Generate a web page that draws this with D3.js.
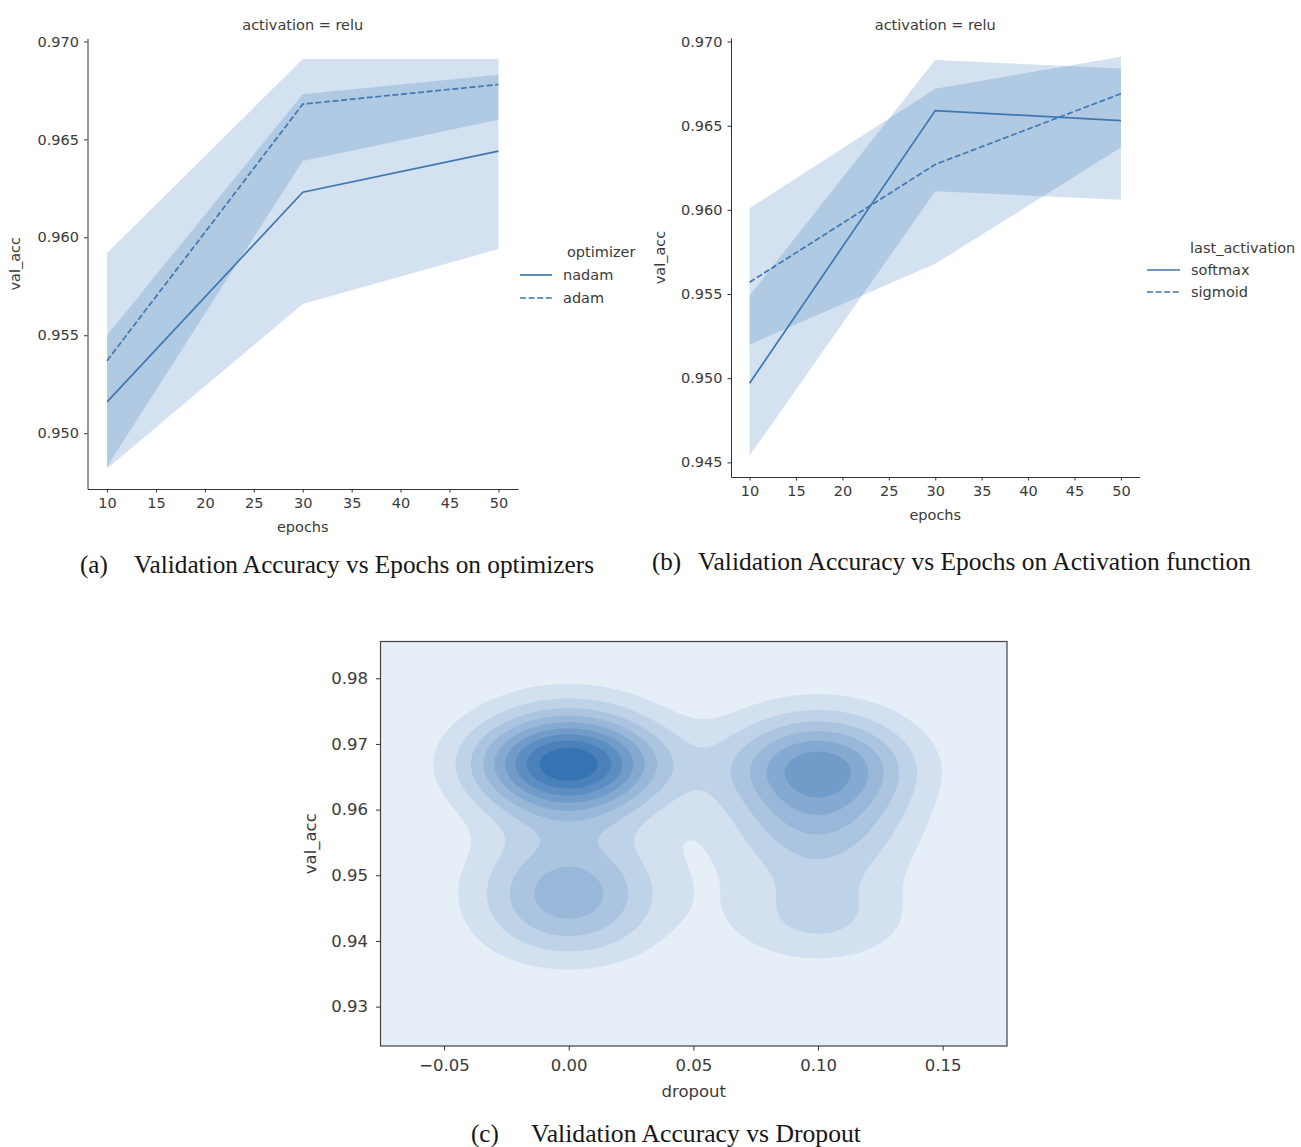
<!DOCTYPE html>
<html><head><meta charset="utf-8">
<script src="https://cdn.jsdelivr.net/npm/d3@7"></script>
<style>body{margin:0;background:#fff}</style>
</head><body><svg id="c" width="1301" height="1147"></svg>
<script>
// ---------- data ----------
const epochs = [10, 30, 50];
const epochTicks = [10, 15, 20, 25, 30, 35, 40, 45, 50];

const nadamMean = [0.9516, 0.9623, 0.9644];
const nadamLo   = [0.9482, 0.9566, 0.9594];
const nadamHi   = [0.9592, 0.9691, 0.9691];
const adamMean  = [0.9537, 0.9668, 0.9678];
const adamLo    = [0.9483, 0.9639, 0.9660];
const adamHi    = [0.9550, 0.9673, 0.9683];
const accTicksA = [0.950, 0.955, 0.960, 0.965, 0.970];

const softmaxMean = [0.9497, 0.9659, 0.9653];
const softmaxLo   = [0.9454, 0.9611, 0.9606];
const softmaxHi   = [0.9549, 0.9689, 0.9684];
const sigmoidMean = [0.9557, 0.9627, 0.9669];
const sigmoidLo   = [0.9520, 0.9568, 0.9637];
const sigmoidHi   = [0.9601, 0.9672, 0.9691];
const accTicksB = [0.945, 0.950, 0.955, 0.960, 0.965, 0.970];

// KDE samples (val_acc observed at each dropout value)
const dropoutValues = [0.0, 0.1];
const accAtDropout0 = [0.9745, 0.9690, 0.9685, 0.9680, 0.9676, 0.9672, 0.9668, 0.9664, 0.9660, 0.9655,
                       0.9615, 0.9585, 0.9520, 0.9495, 0.9478, 0.9462, 0.9430, 0.9405];
const accAtDropout10 = [0.9730, 0.9682, 0.9672, 0.9668, 0.9664, 0.9655, 0.9630, 0.9600, 0.9575, 0.9555,
                        0.9505, 0.9440, 0.9420];
const dropoutTicks = [-0.05, 0.00, 0.05, 0.10, 0.15];
const accTicksC = [0.93, 0.94, 0.95, 0.96, 0.97, 0.98];

// ---------- style ----------
const svg = d3.select('#c');
const FONT = '"DejaVu Sans", sans-serif';
const SERIF = '"Liberation Serif", "Times New Roman", serif';
const LINE = '#3f77b0', BAND = '#3f7fbf', AX = '#333', TXT = '#3a3a3a';

function styleAxis(g, fs) {
  g.attr('font-family', null).attr('font-size', null);
  g.selectAll('path.domain').attr('stroke', AX).attr('stroke-width', 1);
  g.selectAll('.tick line').attr('stroke', AX).attr('stroke-width', 1);
  g.selectAll('.tick text').attr('fill', TXT).style('font-family', FONT).style('font-size', fs + 'px');
}
function label(x, y, txt, fs, opts = {}) {
  const t = svg.append('text').attr('x', x).attr('y', y).text(txt)
    .style('font-family', opts.family || FONT).style('font-size', fs + 'px')
    .attr('fill', opts.fill || TXT).attr('text-anchor', opts.anchor || 'start');
  if (opts.rotate) t.attr('transform', `rotate(-90 ${x} ${y})`);
  if (opts.len) t.attr('textLength', opts.len).attr('lengthAdjust', 'spacingAndGlyphs');
  return t;
}

// ---------- line panels ----------
function linePanel(cfg) {
  const g = svg.append('g');
  const x = d3.scaleLinear().domain([8, 52]).range([cfg.x0, cfg.x1]);
  const y = d3.scaleLinear().domain(cfg.yDom).range([cfg.yBottom, cfg.yTop]);
  cfg.series.forEach(s => {
    const area = d3.area()
      .x((d, i) => x(epochs[i])).y0((d, i) => y(s.lo[i])).y1((d, i) => y(s.hi[i]));
    g.append('path').datum(s.mean).attr('d', area)
      .attr('fill', BAND).attr('fill-opacity', 0.23).attr('stroke', 'none');
  });
  cfg.series.forEach(s => {
    const line = d3.line().x((d, i) => x(epochs[i])).y(d => y(d));
    g.append('path').datum(s.mean).attr('d', line).attr('fill', 'none')
      .attr('stroke', LINE).attr('stroke-width', 1.7)
      .attr('stroke-dasharray', s.dash ? '6,2.6' : null);
  });
  const ax = g.append('g').attr('transform', `translate(0,${cfg.yBottom})`)
    .call(d3.axisBottom(x).tickValues(epochTicks).tickSize(3.5).tickSizeOuter(0).tickPadding(5));
  styleAxis(ax, cfg.fs);
  const ay = g.append('g').attr('transform', `translate(${cfg.x0},0)`)
    .call(d3.axisLeft(y).tickValues(cfg.yTicks).tickFormat(d3.format('.3f')).tickSize(3.5).tickSizeOuter(0).tickPadding(5));
  styleAxis(ay, cfg.fs);
  label((cfg.x0 + cfg.x1) / 2, cfg.titleY, 'activation = relu', cfg.fs, { anchor: 'middle' });
  label((cfg.x0 + cfg.x1) / 2, cfg.xlabY, 'epochs', cfg.fs, { anchor: 'middle' });
  label(cfg.ylabX, (cfg.yTop + cfg.yBottom) / 2, 'val_acc', cfg.fs, { anchor: 'middle', rotate: true });
  // legend
  const L = cfg.legend;
  label(L.titleX, L.titleY, L.title, cfg.fs);
  cfg.series.forEach((s, i) => {
    const yy = L.y0 + i * L.dy;
    g.append('line').attr('x1', L.lx0).attr('x2', L.lx1).attr('y1', yy).attr('y2', yy)
      .attr('stroke', LINE).attr('stroke-width', 1.7)
      .attr('stroke-dasharray', s.dash ? '6,2.6' : null);
    label(L.tx, yy + 5, s.name, cfg.fs);
  });
}

linePanel({
  x0: 87.5, x1: 518, yTop: 38.5, yBottom: 489, yDom: [0.94715, 0.97015], yTicks: accTicksA, fs: 14.5,
  titleY: 30, xlabY: 532, ylabX: 20,
  series: [
    { name: 'nadam', mean: nadamMean, lo: nadamLo, hi: nadamHi, dash: false },
    { name: 'adam', mean: adamMean, lo: adamLo, hi: adamHi, dash: true }
  ],
  legend: { title: 'optimizer', titleX: 567, titleY: 257, lx0: 520, lx1: 552, tx: 563, y0: 275, dy: 23 }
});
linePanel({
  x0: 731, x1: 1139.5, yTop: 38, yBottom: 477, yDom: [0.94413, 0.97021], yTicks: accTicksB, fs: 14.5,
  titleY: 30, xlabY: 520, ylabX: 665,
  series: [
    { name: 'softmax', mean: softmaxMean, lo: softmaxLo, hi: softmaxHi, dash: false },
    { name: 'sigmoid', mean: sigmoidMean, lo: sigmoidLo, hi: sigmoidHi, dash: true }
  ],
  legend: { title: 'last_activation', titleX: 1190, titleY: 253, lx0: 1147, lx1: 1180, tx: 1191, y0: 270, dy: 22 }
});

// ---------- KDE panel ----------
(function () {
  const X0 = 380.5, X1 = 1007, YT = 641.5, YB = 1046;
  const xDom = [-0.0755, 0.1758], yDom = [0.9240, 0.9856];
  const x = d3.scaleLinear().domain(xDom).range([X0, X1]);
  const y = d3.scaleLinear().domain(yDom).range([YB, YT]);
  const bwX = 0.0253, bwY = 0.0046;
  const pts = [];
  accAtDropout0.forEach(a => pts.push([dropoutValues[0], a]));
  accAtDropout10.forEach(a => pts.push([dropoutValues[1], a]));
  const nx = 260, ny = 200;
  const sx = (xDom[1] - xDom[0]) / (nx - 1), sy = (yDom[0] - yDom[1]) / (ny - 1); // j=0 at top
  const vals = new Float64Array(nx * ny);
  for (let j = 0; j < ny; j++) {
    const yv = yDom[1] + j * sy;
    for (let i = 0; i < nx; i++) {
      const xv = xDom[0] + i * sx;
      let s = 0;
      for (const p of pts) {
        const dx = (xv - p[0]) / bwX, dy = (yv - p[1]) / bwY;
        s += Math.exp(-0.5 * (dx * dx + dy * dy));
      }
      vals[j * nx + i] = s;
    }
  }
  const M = d3.max(vals);
  const NL = 10;
  const thresholds = d3.range(1, NL).map(k => k * M / NL);
  const color = d3.scaleLinear().domain([0, NL - 1]).range(['#e6eef8', '#3673b2']).interpolate(d3.interpolateRgb);
  const contours = d3.contours().size([nx, ny]).thresholds(thresholds)(Array.from(vals));
  const path = d3.geoPath(d3.geoTransform({
    point: function (px, py) {
      this.stream.point(x(xDom[0] + (px - 0.5) * sx), y(yDom[1] + (py - 0.5) * sy));
    }
  }));
  svg.append('clipPath').attr('id', 'kclip').append('rect')
    .attr('x', X0).attr('y', YT).attr('width', X1 - X0).attr('height', YB - YT);
  const g = svg.append('g').attr('clip-path', 'url(#kclip)');
  g.append('rect').attr('x', X0).attr('y', YT).attr('width', X1 - X0).attr('height', YB - YT).attr('fill', color(0));
  contours.forEach((c, k) => {
    g.append('path').attr('d', path(c)).attr('fill', color(k + 1)).attr('stroke', 'none');
  });
  svg.append('rect').attr('x', X0).attr('y', YT).attr('width', X1 - X0).attr('height', YB - YT)
    .attr('fill', 'none').attr('stroke', '#444').attr('stroke-width', 1.2);
  const ax = svg.append('g').attr('transform', `translate(0,${YB})`)
    .call(d3.axisBottom(x).tickValues(dropoutTicks).tickFormat(d => d3.format('.2f')(d).replace('-', '\u2212'))
      .tickSize(4.5).tickSizeOuter(0).tickPadding(9));
  styleAxis(ax, 16.5); ax.select('path.domain').remove();
  const ay = svg.append('g').attr('transform', `translate(${X0},0)`)
    .call(d3.axisLeft(y).tickValues(accTicksC).tickFormat(d3.format('.2f')).tickSize(4.5).tickSizeOuter(0).tickPadding(8));
  styleAxis(ay, 16.5); ay.select('path.domain').remove();
  label((X0 + X1) / 2, 1097, 'dropout', 16.5, { anchor: 'middle' });
  label(316, (YT + YB) / 2, 'val_acc', 16.5, { anchor: 'middle', rotate: true });
})();

// ---------- captions ----------
const CAP = { family: SERIF, fill: '#161616' };
label(80, 573, '(a)', 25, CAP);
label(134, 573, 'Validation Accuracy vs Epochs on optimizers', 25, Object.assign({ len: 460 }, CAP));
label(652, 570, '(b)', 25, CAP);
label(698, 570, 'Validation Accuracy vs Epochs on Activation function', 25, Object.assign({ len: 553 }, CAP));
label(471, 1142, '(c)', 25, CAP);
label(531, 1142, 'Validation Accuracy vs Dropout', 25, Object.assign({ len: 330 }, CAP));
</script></body></html>
